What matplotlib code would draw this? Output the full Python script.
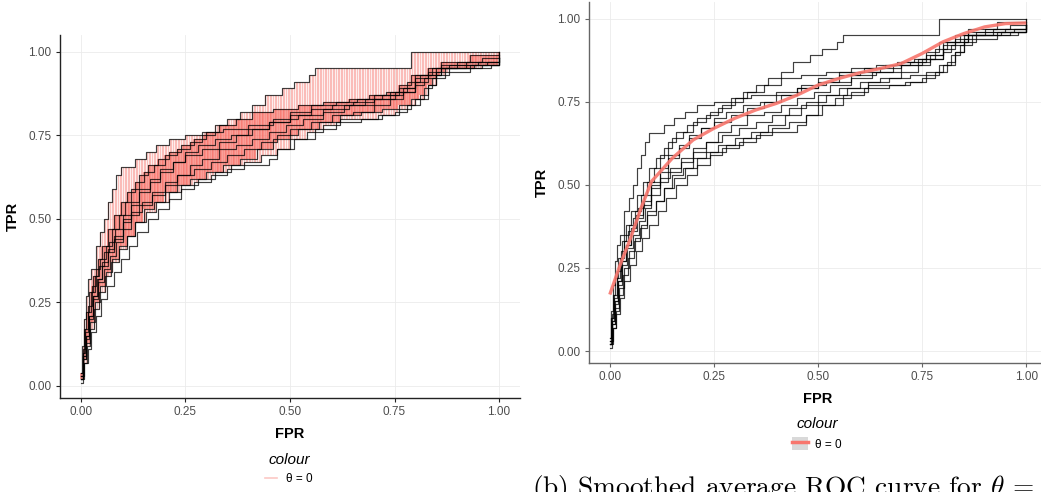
import numpy as np
import matplotlib
matplotlib.use("Agg")
import matplotlib.pyplot as plt
from matplotlib.lines import Line2D
from matplotlib.patches import Patch

# ROC curves (step points: fpr, tpr), same runs in both panels
roc_fpr = [
    [0, 0.004, 0.008, 0.012, 0.02, 0.03, 0.04, 0.05, 0.065, 0.08, 0.095, 0.11, 0.13, 0.15, 0.175, 0.2, 0.23, 0.26, 0.29, 0.32, 0.35, 0.38, 0.41, 0.44, 0.48, 0.51, 0.545, 0.56, 0.79, 1.0],
    [0, 0.003, 0.007, 0.012, 0.018, 0.025, 0.035, 0.045, 0.055, 0.065, 0.075, 0.085, 0.095, 0.13, 0.155, 0.18, 0.21, 0.25, 0.29, 0.34, 0.40, 0.46, 0.52, 0.58, 0.64, 0.70, 0.74, 0.77, 0.80, 0.86, 0.93, 1.0],
    [0, 0.005, 0.01, 0.018, 0.026, 0.035, 0.045, 0.06, 0.075, 0.09, 0.105, 0.12, 0.14, 0.16, 0.185, 0.21, 0.24, 0.27, 0.30, 0.33, 0.37, 0.41, 0.46, 0.52, 0.58, 0.64, 0.69, 0.73, 0.76, 0.79, 0.83, 0.90, 0.96, 1.0],
    [0, 0.006, 0.012, 0.02, 0.03, 0.04, 0.05, 0.065, 0.08, 0.1, 0.12, 0.14, 0.165, 0.19, 0.22, 0.25, 0.28, 0.32, 0.36, 0.40, 0.45, 0.50, 0.55, 0.61, 0.66, 0.70, 0.74, 0.78, 0.81, 0.84, 0.92, 1.0],
    [0, 0.005, 0.012, 0.02, 0.03, 0.042, 0.055, 0.07, 0.085, 0.1, 0.12, 0.14, 0.17, 0.2, 0.23, 0.26, 0.29, 0.33, 0.37, 0.41, 0.45, 0.49, 0.53, 0.58, 0.63, 0.68, 0.72, 0.76, 0.80, 0.83, 0.86, 0.95, 1.0],
    [0, 0.007, 0.014, 0.022, 0.032, 0.044, 0.058, 0.072, 0.09, 0.11, 0.13, 0.15, 0.175, 0.2, 0.23, 0.26, 0.3, 0.34, 0.38, 0.42, 0.46, 0.5, 0.55, 0.6, 0.65, 0.7, 0.74, 0.77, 0.8, 0.82, 0.85, 0.93, 1.0],
    [0, 0.008, 0.016, 0.025, 0.035, 0.048, 0.062, 0.078, 0.095, 0.115, 0.135, 0.16, 0.185, 0.21, 0.24, 0.27, 0.31, 0.35, 0.39, 0.43, 0.47, 0.51, 0.56, 0.61, 0.67, 0.72, 0.76, 0.79, 0.82, 0.84, 0.87, 0.96, 1.0],
    [0, 0.006, 0.013, 0.022, 0.033, 0.045, 0.06, 0.075, 0.09, 0.11, 0.13, 0.155, 0.18, 0.21, 0.24, 0.28, 0.32, 0.36, 0.45, 0.47, 0.5, 0.54, 0.58, 0.62, 0.67, 0.71, 0.75, 0.78, 0.81, 0.83, 0.85, 0.98, 1.0],
    [0, 0.004, 0.01, 0.017, 0.025, 0.034, 0.044, 0.055, 0.068, 0.082, 0.1, 0.12, 0.14, 0.165, 0.19, 0.22, 0.25, 0.29, 0.33, 0.37, 0.41, 0.45, 0.5, 0.55, 0.6, 0.65, 0.7, 0.75, 0.8, 0.83, 0.86, 0.94, 1.0],
    [0, 0.005, 0.011, 0.019, 0.028, 0.038, 0.05, 0.064, 0.08, 0.1, 0.12, 0.145, 0.17, 0.2, 0.23, 0.27, 0.31, 0.35, 0.39, 0.43, 0.47, 0.52, 0.57, 0.62, 0.67, 0.72, 0.76, 0.8, 0.83, 0.85, 0.88, 0.97, 1.0],
]
roc_tpr = [
    [0.02, 0.10, 0.17, 0.22, 0.28, 0.33, 0.38, 0.42, 0.47, 0.51, 0.55, 0.58, 0.61, 0.64, 0.66, 0.69, 0.71, 0.73, 0.75, 0.78, 0.80, 0.82, 0.84, 0.87, 0.89, 0.91, 0.93, 0.95, 1.0, 1.0],
    [0.04, 0.12, 0.20, 0.27, 0.32, 0.35, 0.42, 0.46, 0.50, 0.55, 0.59, 0.63, 0.655, 0.68, 0.70, 0.72, 0.74, 0.75, 0.76, 0.77, 0.78, 0.80, 0.81, 0.83, 0.84, 0.86, 0.87, 0.89, 0.93, 0.97, 0.99, 1.0],
    [0.03, 0.11, 0.17, 0.24, 0.30, 0.35, 0.38, 0.42, 0.47, 0.51, 0.55, 0.59, 0.63, 0.66, 0.68, 0.70, 0.72, 0.74, 0.76, 0.78, 0.80, 0.82, 0.83, 0.84, 0.85, 0.86, 0.87, 0.88, 0.90, 0.93, 0.95, 0.97, 0.98, 1.0],
    [0.02, 0.09, 0.15, 0.21, 0.27, 0.32, 0.36, 0.40, 0.44, 0.50, 0.54, 0.58, 0.61, 0.64, 0.67, 0.70, 0.72, 0.74, 0.75, 0.77, 0.79, 0.82, 0.84, 0.85, 0.86, 0.87, 0.88, 0.91, 0.93, 0.95, 0.97, 0.99],
    [0.01, 0.08, 0.14, 0.20, 0.26, 0.31, 0.35, 0.39, 0.43, 0.47, 0.51, 0.54, 0.57, 0.60, 0.63, 0.66, 0.68, 0.71, 0.72, 0.74, 0.76, 0.78, 0.80, 0.82, 0.84, 0.86, 0.87, 0.89, 0.92, 0.94, 0.96, 0.97, 0.99],
    [0.02, 0.07, 0.12, 0.17, 0.23, 0.28, 0.33, 0.37, 0.41, 0.45, 0.49, 0.53, 0.55, 0.58, 0.60, 0.62, 0.64, 0.66, 0.68, 0.71, 0.74, 0.77, 0.79, 0.81, 0.82, 0.84, 0.86, 0.88, 0.90, 0.92, 0.94, 0.96, 0.98],
    [0.03, 0.07, 0.11, 0.16, 0.21, 0.26, 0.30, 0.34, 0.38, 0.42, 0.46, 0.50, 0.53, 0.56, 0.59, 0.61, 0.63, 0.65, 0.67, 0.69, 0.71, 0.74, 0.77, 0.79, 0.80, 0.81, 0.83, 0.86, 0.89, 0.92, 0.95, 0.96, 0.98],
    [0.02, 0.08, 0.13, 0.19, 0.25, 0.30, 0.34, 0.38, 0.42, 0.45, 0.49, 0.52, 0.55, 0.58, 0.60, 0.62, 0.64, 0.66, 0.68, 0.71, 0.74, 0.76, 0.78, 0.80, 0.80, 0.81, 0.82, 0.84, 0.87, 0.90, 0.95, 0.96, 0.97],
    [0.04, 0.10, 0.16, 0.22, 0.28, 0.33, 0.36, 0.40, 0.43, 0.47, 0.51, 0.55, 0.59, 0.62, 0.65, 0.67, 0.69, 0.71, 0.73, 0.75, 0.77, 0.79, 0.81, 0.83, 0.84, 0.85, 0.86, 0.88, 0.91, 0.93, 0.95, 0.96, 0.98],
    [0.03, 0.09, 0.15, 0.21, 0.27, 0.32, 0.37, 0.41, 0.45, 0.49, 0.52, 0.55, 0.58, 0.61, 0.63, 0.65, 0.67, 0.69, 0.71, 0.73, 0.75, 0.77, 0.79, 0.81, 0.82, 0.83, 0.84, 0.86, 0.90, 0.93, 0.96, 0.97, 0.98],
]

# smoothed average curve (panel b)
smooth_fpr = [0, 0.025, 0.05, 0.075, 0.1, 0.15, 0.2, 0.25, 0.3, 0.35, 0.4, 0.45, 0.5, 0.55, 0.6, 0.65, 0.7, 0.75, 0.8, 0.85, 0.9, 0.95, 1.0]
smooth_tpr = [0.17, 0.26, 0.34, 0.43, 0.51, 0.58, 0.635, 0.67, 0.70, 0.725, 0.745, 0.77, 0.80, 0.82, 0.837, 0.85, 0.865, 0.895, 0.93, 0.955, 0.975, 0.985, 0.987]

ticks = [0.0, 0.25, 0.5, 0.75, 1.0]
tick_labels = ["0.00", "0.25", "0.50", "0.75", "1.00"]
legend_label = "θ = 0"

RED = "#F8766D"
plt.rcParams["font.family"] = ["Liberation Sans", "DejaVu Sans"]
plt.rcParams["mathtext.fontset"] = "cm"

fig = plt.figure(figsize=(10.41, 4.92), dpi=100)
ax1 = fig.add_axes([60 / 1041, 94 / 492, 460 / 1041, 363 / 492])
ax2 = fig.add_axes([589 / 1041, 129 / 492, 458 / 1041, 361 / 492])


def style(ax, spine_col):
    ax.set_xlim(-0.05, 1.05)
    ax.set_ylim(-0.036, 1.05)
    ax.set_xticks(ticks)
    ax.set_xticklabels(tick_labels)
    ax.set_yticks(ticks)
    ax.set_yticklabels(tick_labels)
    ax.grid(True, color="#ebebeb", lw=0.6)
    ax.set_axisbelow(True)
    for s in ["top", "right"]:
        ax.spines[s].set_visible(False)
    for s in ["left", "bottom"]:
        ax.spines[s].set_color(spine_col)
        ax.spines[s].set_linewidth(1.0)
    ax.tick_params(length=3, width=0.8, color=spine_col, labelsize=8.5, labelcolor="#4d4d4d", pad=3)
    ax.set_xlabel("FPR", fontsize=10.5, fontweight="bold", labelpad=6)
    ax.set_ylabel("TPR", fontsize=10.5, fontweight="bold", labelpad=6)


style(ax1, "#222222")
style(ax2, "#666666")

# band of vertical segments across the runs (panel a)
grid = np.linspace(0, 1, 260)
vals = []
for f, t in zip(roc_fpr, roc_tpr):
    idx = np.searchsorted(np.array(f), grid, side="right") - 1
    vals.append(np.array(t)[idx])
vals = np.sort(np.array(vals), axis=0)
ax1.vlines(grid, vals[1], vals[-1], color=RED, alpha=0.45, lw=0.9)
ax1.vlines(grid, vals[2], vals[-2], color=RED, alpha=0.85, lw=1.1)

for ax in (ax1, ax2):
    for f, t in zip(roc_fpr, roc_tpr):
        ax.plot(f, t, drawstyle="steps-post", color="black", alpha=0.75, lw=0.85)

ax2.plot(smooth_fpr, smooth_tpr, color=RED, lw=2.4, alpha=0.9, solid_capstyle="butt")

# legends
leg1 = fig.legend(handles=[Line2D([], [], color=RED, alpha=0.4, lw=1.2)], labels=[legend_label],
                  title="colour", loc="center", bbox_to_anchor=(289 / 1041, 1 - 469 / 492),
                  frameon=False, prop={"size": 8.5}, handlelength=1.0, handletextpad=0.8)
leg1.get_title().set_fontsize(11)
leg1.get_title().set_fontstyle("italic")

leg2 = fig.legend(handles=[(Patch(facecolor="#d9d9d9", edgecolor="none"), Line2D([], [], color=RED, lw=2.5))],
                  labels=[legend_label], title="colour", loc="center",
                  bbox_to_anchor=(817 / 1041, 1 - 434 / 492), frameon=False, prop={"size": 8.5},
                  handlelength=1.3, handleheight=1.3, handletextpad=0.6)
leg2.get_title().set_fontsize(11)
leg2.get_title().set_fontstyle("italic")

fig.text(532 / 1041, -3 / 492, r"(b) Smoothed average ROC curve for $\theta$ =",
         family="cmr10", fontsize=19.7, va="baseline", ha="left")

fig.savefig("out.png", dpi=100)
